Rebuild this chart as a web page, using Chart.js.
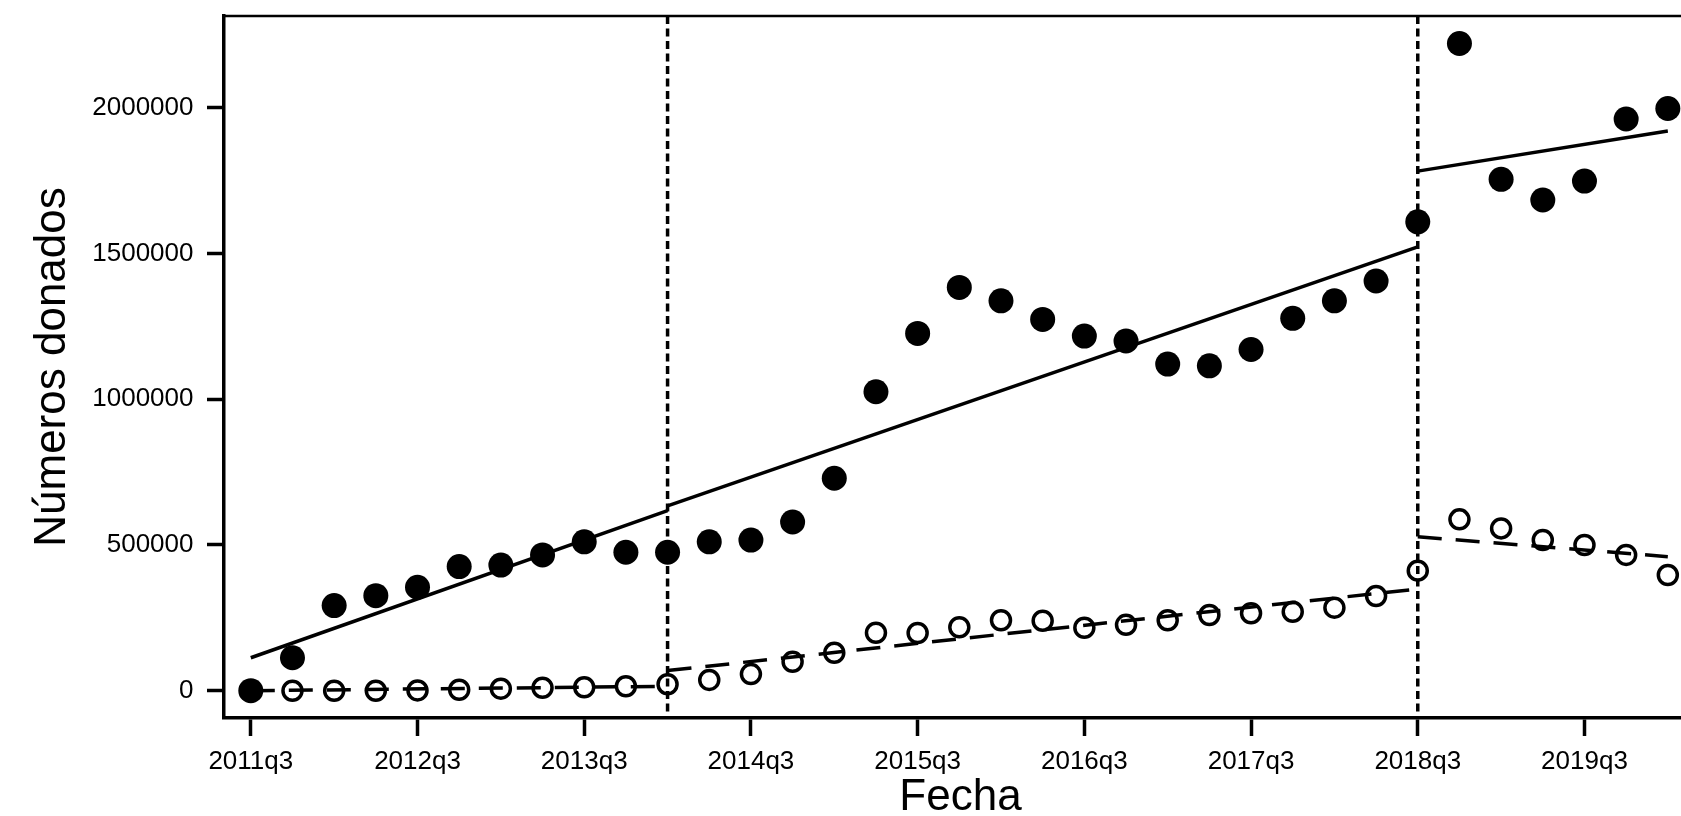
<!DOCTYPE html>
<html>
<head>
<meta charset="utf-8">
<script src="https://cdn.jsdelivr.net/npm/chart.js@4.4.1/dist/chart.umd.min.js"></script>
<style>
  html, body { margin: 0; padding: 0; background: #fff; overflow: hidden; }
  #wrap { width: 1720px; height: 816px; }
</style>
</head>
<body>
<div id="wrap"><canvas id="donations-chart" width="1720" height="816"></canvas></div>
<script>
// --- Data ---
const quarters = [
    '2011q3', '2011q4',
    '2012q1', '2012q2', '2012q3', '2012q4',
    '2013q1', '2013q2', '2013q3', '2013q4',
    '2014q1', '2014q2', '2014q3', '2014q4',
    '2015q1', '2015q2', '2015q3', '2015q4',
    '2016q1', '2016q2', '2016q3', '2016q4',
    '2017q1', '2017q2', '2017q3', '2017q4',
    '2018q1', '2018q2', '2018q3', '2018q4',
    '2019q1', '2019q2', '2019q3', '2019q4',
    '2020q1'
];
const tickQuarters = ['2011q3', '2012q3', '2013q3', '2014q3', '2015q3', '2016q3', '2017q3', '2018q3', '2019q3'];
const yTicks = [0, 500000, 1000000, 1500000, 2000000];
const breakQuarters = ['2014q1', '2018q3'];

// filled dots
const totalDonated = [
    0, 113000, 292000, 326000, 355000, 426000, 431000, 466000, 511000, 475000,
    475000, 511000, 517000, 579000, 729000, 1026000, 1226000, 1384000, 1338000, 1274000,
    1217000, 1200000, 1121000, 1115000, 1171000, 1278000, 1338000, 1406000, 1609000, 2221000,
    1755000, 1684000, 1749000, 1962000, 1998000
];
// hollow dots
const newDonated = [
    0, 0, 0, 0, 1000, 3000, 7000, 10000, 12000, 15000,
    22000, 37000, 57000, 99000, 130000, 199000, 198000, 218000, 242000, 240000,
    216000, 226000, 242000, 260000, 266000, 271000, 285000, 325000, 412000, 588000,
    557000, 517000, 500000, 466000, 397000
];

// fitted lines, one straight piece per period
const segmentStart = ['2011q3', '2014q1', '2018q3'];
const segmentEnd = ['2014q1', '2018q3', '2020q1'];
const totalFitStart = [113000, 634000, 1783000];
const totalFitEnd = [618000, 1523000, 1921000];
const newFitStart = [0, 69000, 528000];
const newFitEnd = [15000, 349000, 460000];

// --- Helpers ---
const qIndex = q => quarters.indexOf(q);

function seriesPoints(values) {
    return values.map((v, i) => ({ x: i, y: v }));
}

function fitDatasets(starts, ends, dash) {
    return segmentStart.map((q, k) => ({
        type: 'line',
        data: [
            { x: qIndex(q), y: starts[k] },
            { x: qIndex(segmentEnd[k]), y: ends[k] }
        ],
        borderColor: '#000',
        borderWidth: 3.5,
        borderDash: dash,
        pointRadius: 0,
        fill: false,
        clip: false
    }));
}

// top frame line + dashed vertical lines at the two breaks
const frameAndBreaks = {
    id: 'frameAndBreaks',
    beforeDatasetsDraw(chart) {
        const { ctx, chartArea, scales } = chart;
        ctx.save();
        ctx.strokeStyle = '#000';
        ctx.lineWidth = 2.5;
        ctx.beginPath();
        ctx.moveTo(chartArea.left, chartArea.top);
        ctx.lineTo(chartArea.right, chartArea.top);
        ctx.stroke();

        ctx.lineWidth = 3.5;
        ctx.setLineDash([8, 4.5]);
        breakQuarters.forEach(q => {
            const x = scales.x.getPixelForValue(qIndex(q));
            ctx.beginPath();
            ctx.moveTo(x, chartArea.top);
            ctx.lineTo(x, chartArea.bottom);
            ctx.stroke();
        });
        ctx.restore();
    }
};

Chart.defaults.font.family = "'Liberation Sans', Arial, sans-serif";
Chart.defaults.color = '#000';

const ctx = document.getElementById('donations-chart').getContext('2d');
new Chart(ctx, {
    type: 'scatter',
    data: {
        datasets: [
            {
                // first in the list -> drawn on top
                data: seriesPoints(totalDonated),
                pointRadius: 12.5,
                pointBorderWidth: 0,
                pointBackgroundColor: '#000',
                pointBorderColor: '#000',
                clip: false
            },
            {
                data: seriesPoints(newDonated),
                pointRadius: 9.5,
                pointBorderWidth: 3.5,
                pointBackgroundColor: 'rgba(0,0,0,0)',
                pointBorderColor: '#000',
                clip: false
            },
            ...fitDatasets(totalFitStart, totalFitEnd, []),
            ...fitDatasets(newFitStart, newFitEnd, [24, 14])
        ]
    },
    plugins: [frameAndBreaks],
    options: {
        responsive: false,
        animation: false,
        devicePixelRatio: 1,
        layout: { padding: { top: 16, right: 23, left: 0, bottom: 0 } },
        plugins: {
            legend: { display: false },
            tooltip: { enabled: false }
        },
        scales: {
            x: {
                type: 'linear',
                min: -0.643,
                max: 34.7,
                afterBuildTicks: scale => {
                    scale.ticks = tickQuarters.map(q => ({ value: qIndex(q) }));
                },
                afterFit: scale => {
                    scale.height = 98;
                    scale.paddingLeft = 0;
                    scale.paddingRight = 0;
                },
                ticks: {
                    callback: v => quarters[v],
                    font: { size: 26 },
                    color: '#000',
                    padding: 10,
                    maxRotation: 0,
                    autoSkip: false
                },
                grid: {
                    drawOnChartArea: false,
                    drawTicks: true,
                    tickLength: 18,
                    tickWidth: 3.5,
                    tickColor: '#000'
                },
                border: { display: true, color: '#000', width: 3.5 },
                title: {
                    display: true,
                    text: 'Fecha',
                    color: '#000',
                    font: { size: 44, lineHeight: 1 },
                    padding: { top: 0, bottom: -4 }
                }
            },
            y: {
                type: 'linear',
                min: -93700,
                max: 2315400,
                afterBuildTicks: scale => {
                    scale.ticks = yTicks.map(v => ({ value: v }));
                },
                afterFit: scale => {
                    scale.width = 224;
                    // no extra room for half-label heights, the frame starts at the top padding
                    scale.paddingTop = 0;
                    scale.paddingBottom = 0;
                },
                ticks: {
                    callback: v => String(v),
                    font: { size: 26 },
                    color: '#000',
                    padding: 13.5
                },
                grid: {
                    drawOnChartArea: false,
                    drawTicks: true,
                    tickLength: 17,
                    tickWidth: 3.5,
                    tickColor: '#000'
                },
                border: { display: true, color: '#000', width: 3.5 },
                title: {
                    display: true,
                    text: 'Números donados',
                    color: '#000',
                    font: { size: 44, lineHeight: 1 },
                    padding: { top: 31, bottom: 0 }
                }
            }
        }
    }
});
</script>
</body>
</html>
